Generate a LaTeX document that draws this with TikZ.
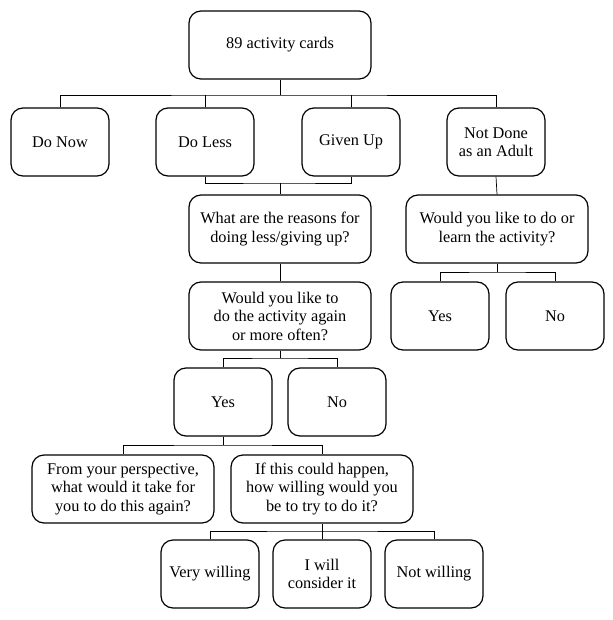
\documentclass[tikz,border=0pt]{standalone}
\usepackage{fontspec}
\setmainfont{Liberation Serif}
\begin{document}
\begin{tikzpicture}[x=1pt,y=-1pt,
  box/.style={draw, line width=1.2pt, rounded corners=12pt, align=center, inner sep=2pt,
    minimum height=68pt, font=\fontsize{16.3}{18.5}\selectfont},
  small/.style={box, minimum width=98pt},
  wide/.style={box, minimum width=182pt},
  conn/.style={line width=0.7pt}]
\useasboundingbox (0,0) rectangle (612,620);
\node[wide] (top) at (280,45) {89 activity cards};
\node[small] (donow) at (60,142) {Do Now};
\node[small] (doless) at (205,142) {Do Less};
\node[small] (givenup) at (351,142) {Given Up};
\node[small] (notdone) at (496,142) {Not Done\\as an Adult};
\node[wide] (reasons) at (280,229) {What are the reasons for\\doing less/giving up?};
\node[wide] (learn) at (497,229) {Would you like to do or\\learn the activity?};
\node[wide] (again) at (280,316) {Would you like to\\do the activity again\\or more often?};
\node[small] (ryes) at (440,316) {Yes};
\node[small] (rno) at (555,316) {No};
\node[small] (myes) at (223,402) {Yes};
\node[small] (mno) at (337,402) {No};
\node[wide] (persp) at (123,489) {From your perspective,\\what would it take for\\you to do this again?};
\node[wide] (happen) at (322,489) {If this could happen,\\how willing would you\\be to try to do it?};
\node[small] (very) at (210,574) {Very willing};
\node[small] (consider) at (322,574) {I will\\consider it};
\node[small] (notw) at (434,574) {Not willing};

\coordinate (j1) at (280,95);
\coordinate (j2) at (280,183);
\coordinate (j3) at (497,272);
\coordinate (j4) at (280,358);
\coordinate (j5) at (223,445);
\coordinate (j6) at (322,531);

\draw[conn] (top.south) -- (j1);
\draw[conn] (donow.north) |- (j1) -| (notdone.north);
\draw[conn] (doless.north) -- (doless.north |- j1);
\draw[conn] (givenup.north) -- (givenup.north |- j1);

\draw[conn] (doless.south) |- (j2) -| (givenup.south);
\draw[conn] (j2) -- (reasons.north);
\draw[conn] (notdone.south) -- (learn.north);

\draw[conn] (reasons.south) -- (again.north);
\draw[conn] (learn.south) -- (j3);
\draw[conn] (ryes.north) |- (j3) -| (rno.north);

\draw[conn] (again.south) -- (j4);
\draw[conn] (myes.north) |- (j4) -| (mno.north);

\draw[conn] (myes.south) -- (j5);
\draw[conn] (persp.north) |- (j5) -| (happen.north);

\draw[conn] (happen.south) -- (j6);
\draw[conn] (very.north) |- (j6) -| (notw.north);
\draw[conn] (consider.north) -- (j6);
\end{tikzpicture}
\end{document}
